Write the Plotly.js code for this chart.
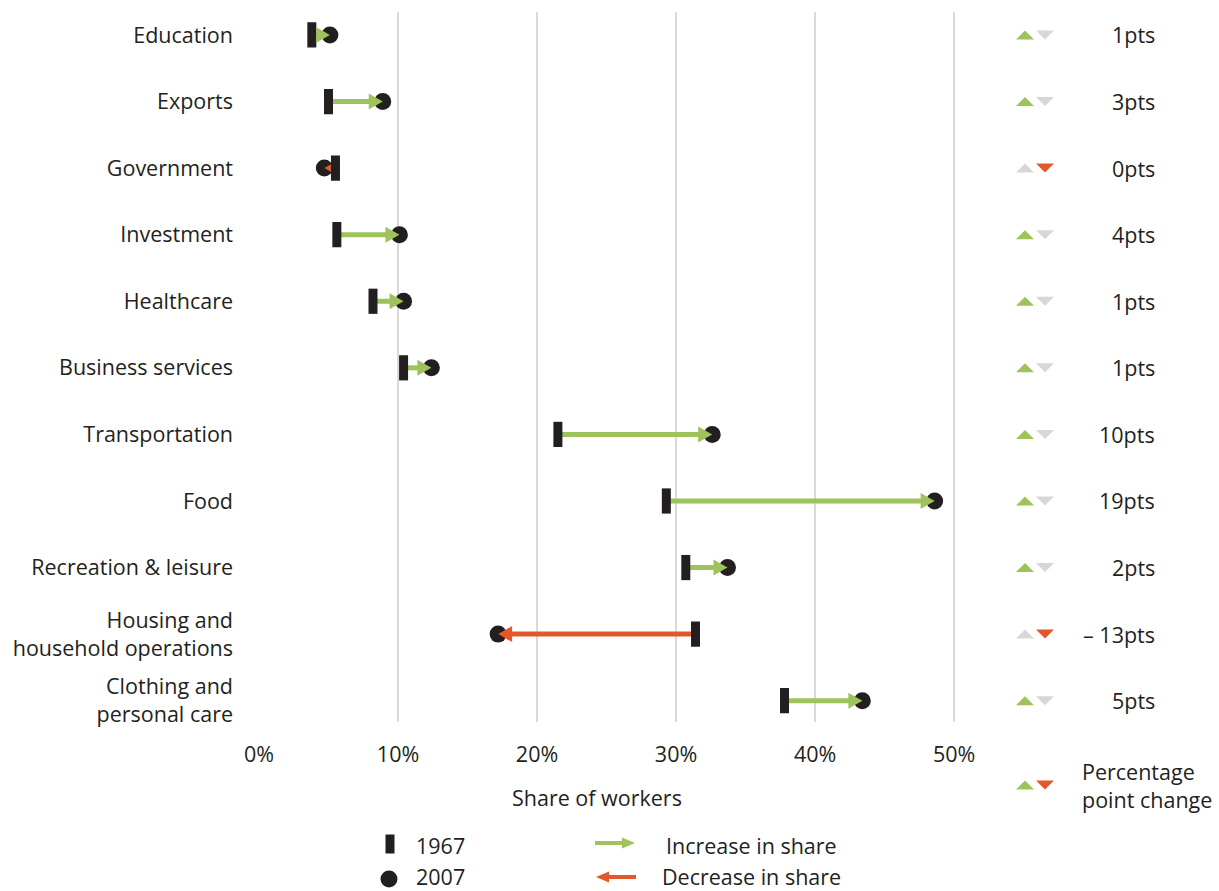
<!DOCTYPE html>
<html><head><meta charset="utf-8">
<script src="https://cdn.plot.ly/plotly-3.0.1.min.js"></script>
<style>html,body{margin:0;padding:0;background:#fff}#chart{width:1219px;height:891px}</style>
</head><body><div id="chart"></div>
<script>
const categories = ["Education","Exports","Government","Investment","Healthcare","Business services","Transportation","Food","Recreation & leisure","Housing and<br>household operations","Clothing and<br>personal care"];
const share1967 = [3.8, 5.0, 5.5, 5.6, 8.2, 10.4, 21.5, 29.3, 30.7, 31.4, 37.8];
const share2007 = [5.1, 8.9, 4.7, 10.1, 10.4, 12.4, 32.6, 48.6, 33.7, 17.2, 43.4];
const ptsLabels = ["1pts","3pts","0pts","4pts","1pts","1pts","10pts","19pts","2pts","– 13pts","5pts"];
const xTickVals = [0, 10, 20, 30, 40, 50];
const xTickText = ["0%","10%","20%","30%","40%","50%"];
const legendLabels = ["1967","2007","Increase in share","Decrease in share","Percentage<br>point change"];
const xTitle = "Share of workers";

const GREEN = "#9dc35a", ORANGE = "#e2582b", GREY = "#d9d6d6", DARK = "#231f20";
const FONT = "Open Sans, sans-serif";
const FS = 21.5;

function segTrace(up) {
  const x = [], y = [];
  categories.forEach((c, i) => {
    const inc = share2007[i] >= share1967[i];
    if (inc !== up) return;
    x.push(share1967[i], share2007[i], null);
    y.push(c, c, null);
  });
  return {
    type: "scatter", mode: "lines", x, y, hoverinfo: "skip", showlegend: false, connectgaps: false,
    line: {color: up ? GREEN : ORANGE, width: 5}
  };
}

const traces = [
  segTrace(true), segTrace(false),
  {type: "scatter", mode: "markers", x: share1967, y: categories, hoverinfo: "skip", showlegend: false,
   marker: {symbol: "line-ns", size: 18, color: DARK, line: {width: 9, color: DARK}}},
  {type: "scatter", mode: "markers", x: share2007, y: categories, hoverinfo: "skip", showlegend: false,
   marker: {symbol: "circle", size: 17, color: DARK, line: {width: 0}}}
];

// layout helpers (pixel -> paper)
const L = 259, T = 12, PW = 960, PH = 710;
const XDOM = 0.74, XMAX = 51.1;
const pxPerUnit = PW * XDOM / XMAX;
const px = v => (v - L) / PW;
const py = v => (T + PH - v) / PH;

const shapes = [];
const annotations = [];
categories.forEach((c, i) => {
  const inc = share2007[i] >= share1967[i];
  // arrowhead at the 2007 end (drawn above the dot), pointing in the direction of change
  const len = Math.min(14, Math.abs(share2007[i] - share1967[i]) * pxPerUnit - 4.5);
  const h = len * 8 / 14;
  const b = inc ? -len : len;
  shapes.push({type: "path", xref: "x", yref: "y", xsizemode: "pixel", ysizemode: "pixel",
    xanchor: share2007[i], yanchor: i,
    path: `M0,0L${b},${h}L${b},${-h}Z`,
    fillcolor: inc ? GREEN : ORANGE, line: {width: 0}});
  shapes.push({type: "path", xref: "x2", yref: "y", xsizemode: "pixel", ysizemode: "pixel",
    xanchor: 1025, yanchor: i, path: "M-9,-4.5L9,-4.5L0,4.5Z", fillcolor: inc ? GREEN : GREY, line: {width: 0}});
  shapes.push({type: "path", xref: "x2", yref: "y", xsizemode: "pixel", ysizemode: "pixel",
    xanchor: 1045, yanchor: i, path: "M-9,4.5L9,4.5L0,-4.5Z", fillcolor: inc ? GREY : ORANGE, line: {width: 0}});
  annotations.push({xref: "x2", yref: "y", x: 1157, y: i, xanchor: "right", yanchor: "middle",
    text: ptsLabels[i], showarrow: false, font: {family: FONT, size: FS, color: DARK}});
});
// percentage point change key
shapes.push({type: "path", xref: "x2", yref: "paper", xsizemode: "pixel", ysizemode: "pixel",
  xanchor: 1025, yanchor: py(785), path: "M-9,-4.5L9,-4.5L0,4.5Z", fillcolor: GREEN, line: {width: 0}});
shapes.push({type: "path", xref: "x2", yref: "paper", xsizemode: "pixel", ysizemode: "pixel",
  xanchor: 1045, yanchor: py(785), path: "M-9,4.5L9,4.5L0,-4.5Z", fillcolor: ORANGE, line: {width: 0}});
annotations.push({xref: "x2", yref: "paper", x: 1080, y: py(785), xanchor: "left", yanchor: "middle", align: "left",
  text: legendLabels[4], showarrow: false, font: {family: FONT, size: FS, color: DARK}});

// bottom legend
shapes.push({type: "rect", xref: "paper", yref: "paper", xsizemode: "pixel", ysizemode: "pixel",
  xanchor: px(390), yanchor: py(844), x0: -4.5, x1: 4.5, y0: -9.5, y1: 9.5, fillcolor: DARK, line: {width: 0}});
shapes.push({type: "circle", xref: "paper", yref: "paper", xsizemode: "pixel", ysizemode: "pixel",
  xanchor: px(389), yanchor: py(879), x0: -8.5, x1: 8.5, y0: -8.5, y1: 8.5, fillcolor: DARK, line: {width: 0}});
shapes.push({type: "line", xref: "paper", yref: "paper", xsizemode: "pixel", ysizemode: "pixel",
  xanchor: px(615), yanchor: py(843), x0: -20, x1: 12, y0: 0, y1: 0, line: {color: GREEN, width: 4}});
shapes.push({type: "path", xref: "paper", yref: "paper", xsizemode: "pixel", ysizemode: "pixel",
  xanchor: px(615), yanchor: py(843), path: "M20,0L7,5.5L7,-5.5Z", fillcolor: GREEN, line: {width: 0}});
shapes.push({type: "line", xref: "paper", yref: "paper", xsizemode: "pixel", ysizemode: "pixel",
  xanchor: px(616), yanchor: py(877), x0: -12, x1: 20, y0: 0, y1: 0, line: {color: ORANGE, width: 4}});
shapes.push({type: "path", xref: "paper", yref: "paper", xsizemode: "pixel", ysizemode: "pixel",
  xanchor: px(616), yanchor: py(877), path: "M-20,0L-7,5.5L-7,-5.5Z", fillcolor: ORANGE, line: {width: 0}});

annotations.push({xref: "paper", yref: "paper", x: px(414), y: py(845), xanchor: "left", yanchor: "middle",
  text: legendLabels[0], showarrow: false, font: {family: FONT, size: FS, color: DARK}});
annotations.push({xref: "paper", yref: "paper", x: px(414), y: py(876), xanchor: "left", yanchor: "middle",
  text: legendLabels[1], showarrow: false, font: {family: FONT, size: FS, color: DARK}});
annotations.push({xref: "paper", yref: "paper", x: px(751), y: py(845), xanchor: "center", yanchor: "middle",
  text: legendLabels[2], showarrow: false, font: {family: FONT, size: FS, color: DARK}});
annotations.push({xref: "paper", yref: "paper", x: px(751), y: py(876), xanchor: "center", yanchor: "middle",
  text: legendLabels[3], showarrow: false, font: {family: FONT, size: FS, color: DARK}});
annotations.push({xref: "paper", yref: "paper", x: px(597), y: py(797), xanchor: "center", yanchor: "middle",
  text: xTitle, showarrow: false, font: {family: FONT, size: FS, color: DARK}});

const layout = {
  width: 1219, height: 891,
  margin: {l: L, r: 0, t: T, b: 891 - T - PH, pad: 0},
  paper_bgcolor: "#fff", plot_bgcolor: "#fff",
  font: {family: FONT, size: FS, color: DARK},
  showlegend: false,
  xaxis: {domain: [0, XDOM], range: [0, XMAX], tickvals: xTickVals, ticktext: xTickText,
    showgrid: true, gridcolor: "#d9d9d9", gridwidth: 2, zeroline: false, showline: false,
    ticks: "", ticklabelstandoff: 17, tickfont: {family: FONT, size: FS, color: DARK}, fixedrange: true},
  xaxis2: {domain: [0.75, 1], range: [979, 1219], anchor: "y", showgrid: false, zeroline: false,
    showline: false, showticklabels: false, ticks: "", fixedrange: true},
  yaxis: {type: "category", categoryorder: "array", categoryarray: categories, autorange: false,
    range: [10.32, -0.345], showgrid: false, zeroline: false, showline: false, ticks: "",
    ticklabelstandoff: 25, tickfont: {family: FONT, size: FS, color: DARK}, fixedrange: true},
  shapes, annotations
};

Plotly.newPlot("chart", traces, layout, {displayModeBar: false, staticPlot: true});
</script>
</body></html>
